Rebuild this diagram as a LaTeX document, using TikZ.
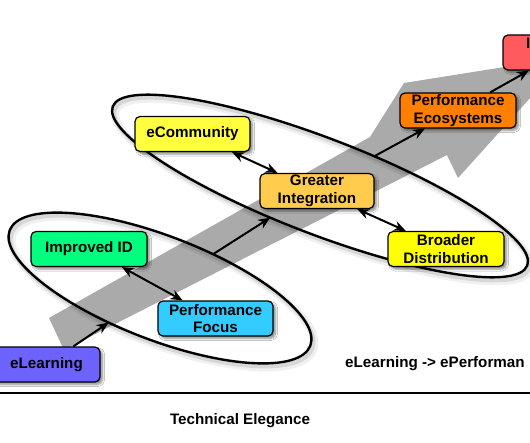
\documentclass[tikz,border=0pt]{standalone}
\usepackage{fontspec}
\setmainfont{Liberation Sans}
\usetikzlibrary{shapes.geometric,arrows.meta,shadows.blur}
\definecolor{cLearn}{HTML}{6C63FF}
\definecolor{cImp}{HTML}{00FF7F}
\definecolor{cPF}{HTML}{33CCFF}
\definecolor{cEC}{HTML}{FFFF40}
\definecolor{cGI}{HTML}{FFCC4D}
\definecolor{cBD}{HTML}{FFFF00}
\definecolor{cPE}{HTML}{FF8000}
\definecolor{cRed}{HTML}{FF5B5F}
\definecolor{arrowgray}{HTML}{AAAAAA}
\begin{document}
\begin{tikzpicture}[x=1pt,y=-1pt,
  box/.style={draw=black, line width=1.2pt, rounded corners=5pt, minimum width=115pt,
    minimum height=35pt, inner sep=0pt, align=center,
    font=\fontsize{15.2}{17.5}\selectfont\bfseries,
    blur shadow={shadow xshift=2.5pt, shadow yshift=-2.5pt, shadow blur steps=6, shadow opacity=45}},
  grp/.style={draw=black, line width=2.4pt, ellipse, inner sep=0pt, outer sep=0pt, rotate=-21},
  grpshadow/.style={draw=black, line width=5pt, ellipse, inner sep=0pt, rotate=-21},
  conn/.style={line width=2pt, -{Stealth[length=12pt,width=10pt]}},
  biconn/.style={line width=2pt, {Stealth[length=12pt,width=10pt]}-{Stealth[length=12pt,width=10pt]}},
  lbl/.style={font=\fontsize{15.2}{17.5}\selectfont\bfseries, inner sep=0pt},
]
\useasboundingbox (0,0) rectangle (530,442);
\fill[white] (0,0) rectangle (530,442);

% big grey arrow
\fill[arrowgray] (49,318) -- (64,350) -- (447,155) -- (458,178) -- (567,57) -- (404,83) -- (370,137) -- cycle;

% ellipse shadows
\node[grpshadow, draw opacity=0.06, line width=8pt, minimum width=322pt, minimum height=104pt] (g1s) at (163,292) {};
\node[grpshadow, draw opacity=0.10, line width=4pt, minimum width=322pt, minimum height=104pt] (g1t) at (162,291) {};
\node[grpshadow, draw opacity=0.06, line width=8pt, minimum width=444pt, minimum height=96pt] (g2s) at (323,190) {};
\node[grpshadow, draw opacity=0.10, line width=4pt, minimum width=444pt, minimum height=96pt] (g2t) at (322,189) {};

% ellipses
\node[grp, minimum width=322pt, minimum height=104pt] (grp1) at (160,288) {};
\node[grp, minimum width=444pt, minimum height=96pt] (grp2) at (320,186) {};

% boxes
\node[box, fill=cLearn, minimum width=107pt] (elearn) at (46.5,364.5) {eLearning};
\node[box, fill=cImp, minimum width=116pt] (impid) at (89,249) {Improved ID};
\node[box, fill=cPF] (pfocus) at (215.5,318.5) {Performance\\Focus};
\node[box, fill=cEC] (ecomm) at (192.5,134) {eCommunity};
\node[box, fill=cGI, minimum width=114pt] (ginteg) at (317,191) {Greater\\Integration};
\node[box, fill=cBD, minimum width=116pt] (bdist) at (446,249) {Broader\\Distribution};
\node[box, fill=cPE, minimum width=116pt] (peco) at (458,110.5) {Performance\\Ecosystems};
\node[box, fill=cRed, minimum width=116pt] (redbox) at (561,52.5) {};
\node[lbl, anchor=base west] (redtxt) at (526,48.5) {I};

% connectors
\draw[conn] (elearn) -- (grp1);
\draw[biconn] (impid) -- (pfocus);
\draw[conn] (grp1) -- (grp2);
\draw[biconn] (ecomm) -- (ginteg);
\draw[biconn] (ginteg) -- (bdist);
\draw[conn] (grp2) -- (peco);
\draw[conn] (peco) -- (redbox);

% bottom
\coordinate (axl) at (0,393);
\coordinate (axr) at (530,393);
\draw[line width=2pt] (axl) -- (axr);
\node[lbl, anchor=base] (tech) at (240,424) {Technical Elegance};
\node[lbl, anchor=base west] (eperf) at (345,367) {eLearning -> ePerforman};
\end{tikzpicture}
\end{document}
